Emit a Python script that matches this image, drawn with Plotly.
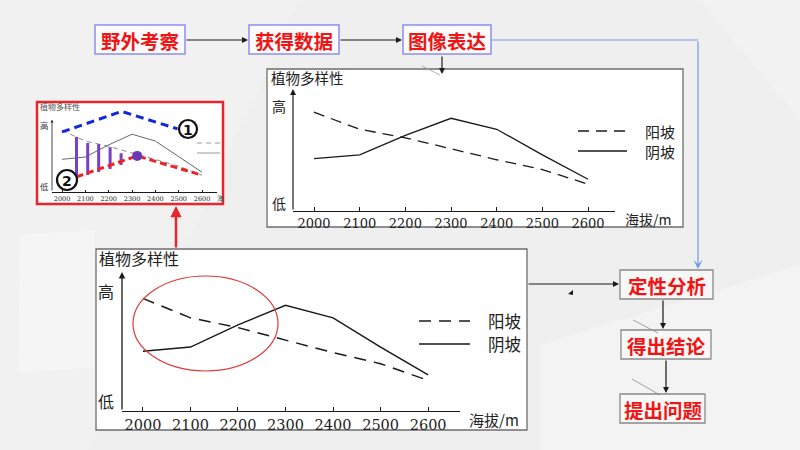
import plotly.graph_objects as go

W, H = 800, 450
def X(p): return p / W
def Y(p): return 1 - p / H

# ---------------- data ----------------
altitude = [2000, 2100, 2200, 2300, 2400, 2500, 2600]
tick_labels = ["2000", "2100", "2200", "2300", "2400", "2500", "2600"]
sunny_slope = [8.1, 6.7, 6.0, 5.1, 4.2, 3.4, 2.2]   # 阳坡
shady_slope = [4.3, 4.6, 6.2, 7.6, 6.7, 4.6, 2.6]   # 阴坡

# inset schematic
potential_x = [2000, 2255, 2495]      # ① blue dashed
potential_y = [7.9, 10.6, 8.3]
lower_x = [2062, 2322, 2600]          # ② red dashed
lower_y = [2.0, 4.75, 2.2]
gap_x = [2062, 2110, 2157, 2206, 2253]   # purple bars
gap_top = [7.25, 6.45, 6.3, 5.9, 5.1]
gap_bottom = [1.97, 2.24, 2.63, 3.03, 3.55]
dot_x, dot_y = [2322], [4.75]

flow_top = ["野外考察", "获得数据", "图像表达"]
flow_right = ["定性分析", "得出结论", "提出问题"]
legend_names = ["阳坡", "阴坡"]
title_text = "植物多样性"
xlabel_text = "海拔/m"

CJK = "Noto Sans CJK SC"
SERIF = "DejaVu Serif"
DASH = "11px,7px"

fig = go.Figure()

# top chart
fig.add_trace(go.Scatter(x=altitude, y=sunny_slope, mode="lines", xaxis="x", yaxis="y",
                         line=dict(color="#1a1a1a", width=1.3, dash=DASH), showlegend=False))
fig.add_trace(go.Scatter(x=altitude, y=shady_slope, mode="lines", xaxis="x", yaxis="y",
                         line=dict(color="#1a1a1a", width=1.3), showlegend=False))
# bottom chart
fig.add_trace(go.Scatter(x=altitude, y=sunny_slope, mode="lines", xaxis="x2", yaxis="y2",
                         line=dict(color="#1a1a1a", width=1.5, dash="12px,8px"), showlegend=False))
fig.add_trace(go.Scatter(x=altitude, y=shady_slope, mode="lines", xaxis="x2", yaxis="y2",
                         line=dict(color="#1a1a1a", width=1.5), showlegend=False))
# inset chart
fig.add_trace(go.Scatter(x=altitude, y=sunny_slope, mode="lines", xaxis="x3", yaxis="y3",
                         line=dict(color="#8a8a8a", width=1, dash="5px,4px"), showlegend=False))
fig.add_trace(go.Scatter(x=altitude, y=shady_slope, mode="lines", xaxis="x3", yaxis="y3",
                         line=dict(color="#6a6a6a", width=1), showlegend=False))
bx, by = [], []
for gx, gt, gb in zip(gap_x, gap_top, gap_bottom):
    bx += [gx, gx, None]
    by += [gt, gb, None]
fig.add_trace(go.Scatter(x=bx, y=by, mode="lines", xaxis="x3", yaxis="y3",
                         line=dict(color="#7b3fc4", width=3), showlegend=False))
fig.add_trace(go.Scatter(x=lower_x, y=lower_y, mode="lines", xaxis="x3", yaxis="y3",
                         line=dict(color="#ee2222", width=3, dash="7px,4px"), showlegend=False))
fig.add_trace(go.Scatter(x=potential_x, y=potential_y, mode="lines", xaxis="x3", yaxis="y3",
                         line=dict(color="#1428d8", width=3, dash="8px,5px"), showlegend=False))
fig.add_trace(go.Scatter(x=dot_x, y=dot_y, mode="markers", xaxis="x3", yaxis="y3",
                         marker=dict(color="#6a38b8", size=10), showlegend=False))

def xaxis(dom, rng, anchor, fsize, tlen, lw):
    return dict(domain=dom, range=rng, anchor=anchor, showline=True, linecolor="#1a1a1a",
                linewidth=lw, ticks="inside", ticklen=tlen, tickcolor="#1a1a1a", tickwidth=1,
                tickvals=altitude, ticktext=tick_labels,
                tickfont=dict(family=SERIF, size=fsize, color="#222"),
                showgrid=False, zeroline=False, fixedrange=True)

def yaxis(dom, rng, anchor):
    return dict(domain=dom, range=rng, anchor=anchor, showline=False, showticklabels=False,
                ticks="", showgrid=False, zeroline=False, fixedrange=True)

layout = dict(
    width=W, height=H, margin=dict(l=0, r=0, t=0, b=0),
    paper_bgcolor="#efefef", plot_bgcolor="rgba(0,0,0,0)", showlegend=False,
    xaxis=xaxis([X(293), X(615)], [1954, 2659], "y", 13, 4, 1.2),
    yaxis=yaxis([Y(211), Y(89)], [0, 10], "x"),
    xaxis2=xaxis([X(122), X(460)], [1956, 2667], "y2", 14.5, 4, 1.3),
    yaxis2=yaxis([Y(411), Y(272)], [0, 10], "x2"),
    xaxis3=xaxis([X(52), X(217)], [1957, 2664], "y3", 6.5, 2, 0.8),
    yaxis3=yaxis([Y(192), Y(108)], [0, 11.05], "x3"),
)
fig.update_layout(**layout)

shapes = []
ann = []

# background soft polygons
def poly(pts, color):
    d = "M " + " L ".join(f"{X(a)},{Y(b)}" for a, b in pts) + " Z"
    shapes.append(dict(type="path", path=d, xref="paper", yref="paper", fillcolor=color,
                       line=dict(width=0), layer="below"))
poly([(0, 0), (300, 0), (90, 450), (0, 450)], "#f1f1f1")
poly([(20, 235), (95, 230), (95, 368), (18, 372)], "#f5f5f5")
poly([(540, 345), (800, 265), (800, 450), (540, 450)], "#f3f3f3")
poly([(700, 0), (800, 0), (800, 120)], "#f2f2f2")

def rect(x0, y0, x1, y1, line, lw, fill, layer="below"):
    shapes.append(dict(type="rect", xref="paper", yref="paper", x0=X(x0), x1=X(x1),
                       y0=Y(y1), y1=Y(y0), line=dict(color=line, width=lw),
                       fillcolor=fill, layer=layer))

def seg(x0, y0, x1, y1, color, w, dash=None, layer="above"):
    ln = dict(color=color, width=w)
    if dash:
        ln["dash"] = dash
    shapes.append(dict(type="line", xref="paper", yref="paper", x0=X(x0), y0=Y(y0),
                       x1=X(x1), y1=Y(y1), line=ln, layer=layer))

def arrow(x0, y0, x1, y1, color="#1a1a1a", w=1.2, head=2, size=1.0):
    ann.append(dict(x=X(x1), y=Y(y1), xref="paper", yref="paper", ax=x0 - x1, ay=y0 - y1,
                    axref="pixel", ayref="pixel", showarrow=True, arrowhead=head,
                    arrowsize=size, arrowwidth=w, arrowcolor=color, text=""))

def text(x, y, s, size, color="#222", family=CJK, xanchor="center"):
    ann.append(dict(x=X(x), y=Y(y), xref="paper", yref="paper", text=s, showarrow=False,
                    xanchor=xanchor, yanchor="middle", font=dict(family=family, size=size, color=color)))

# chart panels
rect(267, 69, 683, 227, "#6e6e6e", 1.3, "#ffffff")
rect(96, 249, 527, 430, "#6e6e6e", 1.3, "#ffffff")
rect(37, 102, 223, 204, "#e8252a", 2.5, "#ffffff")

# flow boxes (top)
top_pos = [(95, 25, 185, 54), (249, 25, 339, 54), (403, 25, 491, 54)]
for s, (a, b, c, d) in zip(flow_top, top_pos):
    rect(a, b, c, d, "#8d8df0", 1.5, "#fbfbfd", layer="above")
    text((a + c) / 2, (b + d) / 2 + 0.5, f"<b>{s}</b>", 19.5, "#f01515")
right_pos = [(620, 270, 713, 299), (621, 330, 711, 359), (620, 394, 705, 423)]
for s, (a, b, c, d) in zip(flow_right, right_pos):
    rect(a, b, c, d, "#8a8a8a", 1.3, "#f7f7f7", layer="above")
    text((a + c) / 2, (b + d) / 2 + 0.5, f"<b>{s}</b>", 19.5, "#f01515")

# flow arrows
arrow(185, 40, 248, 40)
arrow(339, 40, 402, 40)
arrow(442, 55, 442, 74)
arrow(527, 284, 619, 284)
arrow(663, 299, 663, 329)
arrow(666, 359, 666, 393)
# blue connector
seg(491, 40, 698, 40, "#6f9bec", 1.2)
arrow(698, 40, 698, 269, color="#6f9bec", w=1.2, head=3, size=1.3)
# red arrow from bottom chart up to inset
arrow(176, 249, 176, 206, color="#e8252a", w=2.5, head=2, size=0.9)

# stray thin marks
seg(422, 66, 440, 75, "#9a9a9a", 0.8)
seg(633, 320, 658, 333, "#8a8a8a", 0.8)
seg(632, 379, 660, 395, "#8a8a8a", 0.8)
shapes.append(dict(type="path", xref="paper", yref="paper",
                   path=f"M {X(568)},{Y(294)} L {X(573)},{Y(290)} L {X(573)},{Y(295)} Z",
                   fillcolor="#1a1a1a", line=dict(width=0)))

# y-axis arrows
ann.append(dict(x=1954, y=10, xref="x", yref="y", ax=1954, ay=0, axref="x", ayref="y",
                showarrow=True, arrowhead=2, arrowsize=1, arrowwidth=1.2, arrowcolor="#1a1a1a", text=""))
ann.append(dict(x=1956, y=10, xref="x2", yref="y2", ax=1956, ay=0, axref="x2", ayref="y2",
                showarrow=True, arrowhead=2, arrowsize=1, arrowwidth=1.3, arrowcolor="#1a1a1a", text=""))
ann.append(dict(x=1957, y=9.5, xref="x3", yref="y3", ax=1957, ay=0, axref="x3", ayref="y3",
                showarrow=True, arrowhead=2, arrowsize=0.7, arrowwidth=0.8, arrowcolor="#1a1a1a", text=""))

# chart texts: top
text(269, 77, title_text, 14.5, "#222", xanchor="left")
text(279, 106, "高", 14)
text(279, 203, "低", 14)
text(648, 219, xlabel_text, 14)
seg(578, 131, 627, 131, "#1a1a1a", 1.3, dash="11px,7px")
seg(578, 151, 627, 151, "#1a1a1a", 1.3)
text(660, 131, legend_names[0], 15)
text(660, 151, legend_names[1], 15)

# bottom
text(97, 258, title_text, 16, "#222", xanchor="left")
text(106, 291, "高", 16)
text(106, 401, "低", 16)
text(494, 419, xlabel_text, 15)
seg(419, 321, 470, 321, "#1a1a1a", 1.5, dash="12px,8px")
seg(419, 344, 470, 344, "#1a1a1a", 1.5)
text(504, 321, legend_names[0], 16.5)
text(504, 344, legend_names[1], 16.5)
shapes.append(dict(type="circle", xref="paper", yref="paper", x0=X(133), x1=X(278),
                   y0=Y(371), y1=Y(276), line=dict(color="#e03a3a", width=1.2)))

# inset
text(38, 107, title_text, 8, "#555", xanchor="left")
text(44, 125, "高", 8.5, "#333")
text(44, 186, "低", 8.5, "#333")
text(220, 198, "海", 7, "#555")
seg(197, 143, 220, 143, "#999999", 1, dash="5px,4px")
seg(197, 153, 220, 153, "#999999", 1)
for (cx, cy, r, s) in [(188, 129, 9, "1"), (67, 180, 10, "2")]:
    shapes.append(dict(type="circle", xref="paper", yref="paper", x0=X(cx - r), x1=X(cx + r),
                       y0=Y(cy + r), y1=Y(cy - r), line=dict(color="#111", width=2.2),
                       fillcolor="#ffffff"))
    text(cx, cy + 0.5, f"<b>{s}</b>", 14, "#111", family="DejaVu Sans")

fig.update_layout(shapes=shapes, annotations=ann)
fig.write_html("out.html")
